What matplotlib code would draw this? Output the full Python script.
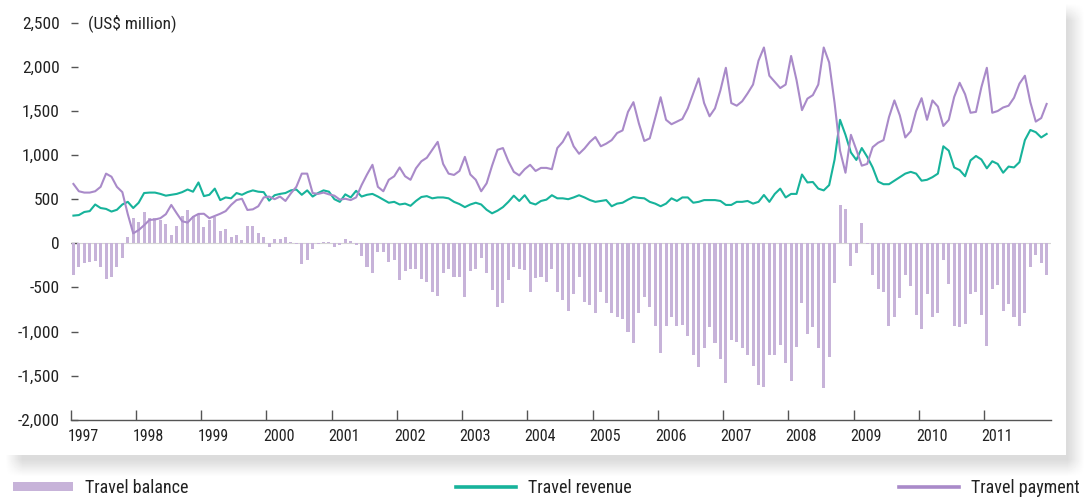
import numpy as np
import matplotlib
matplotlib.use("Agg")
import matplotlib.pyplot as plt
import matplotlib.transforms as mtransforms
from matplotlib.lines import Line2D
from matplotlib.patches import Patch
from matplotlib import font_manager as fm

# ---------------- data (US$ million, monthly Jan 1997 - Dec 2011) ----------------
years = [str(y) for y in range(1997, 2012)]

travel_revenue = [
    314, 320, 355, 365, 440, 400, 390, 360, 380, 440, 470, 400,
    460, 570, 575, 575, 560, 540, 550, 560, 580, 610, 585, 690,
    535, 550, 620, 490, 520, 510, 570, 550, 580, 600, 585, 580,
    484, 545, 560, 570, 600, 610, 550, 600, 530, 570, 600, 585,
    500, 470, 555, 520, 595, 530, 550, 560, 530, 495, 460, 470,
    440, 450, 425, 480, 525, 535, 510, 520, 520, 510, 470, 445,
    410, 440, 460, 440, 380, 340, 370, 410, 470, 540, 480, 545,
    460, 440, 480, 495, 545, 510, 510, 500, 520, 545, 520, 490,
    470, 480, 490, 420, 450, 460, 495, 525, 515, 510, 470, 450,
    420, 450, 510, 480, 520, 520, 460, 470, 490, 490, 490, 480,
    435, 435, 470, 470, 480, 450, 470, 548, 470, 560, 620, 520,
    560, 560, 780, 690, 695, 620, 600, 660, 950, 1400, 1230, 1030,
    945, 1080, 980, 860, 700, 670, 670, 710, 750, 790, 810, 790,
    710, 720, 750, 790, 1100, 1050, 860, 830, 760, 940, 990, 950,
    850, 930, 900, 800, 870, 860, 920, 1170, 1285, 1260, 1200, 1240,
]

travel_payment = [
    673, 590, 575, 575, 590, 640, 790, 755, 640, 580, 330, 113,
    150, 205, 265, 270, 285, 330, 435, 340, 250, 235, 300, 333,
    335, 285, 310, 335, 365, 435, 490, 505, 378, 385, 420, 520,
    530, 500, 530, 480, 567, 640, 790, 790, 570, 560, 575, 555,
    540, 495, 505, 490, 520, 660, 780, 890, 640, 590, 720, 760,
    860, 760, 720, 850, 930, 970, 1060, 1150, 900, 790, 775, 820,
    980, 780, 720, 590, 680, 880, 1060, 1080, 930, 810, 770, 840,
    890, 820, 855, 855, 840, 1080, 1150, 1260, 1100, 1015, 1075, 1150,
    1205, 1100, 1130, 1170, 1250, 1280, 1490, 1600, 1360, 1160, 1190, 1420,
    1656, 1400, 1350, 1380, 1410, 1530, 1700, 1870, 1590, 1440, 1530, 1735,
    1990, 1590, 1560, 1610, 1700, 1800, 2070, 2220, 1900, 1830, 1760, 1800,
    2124, 1850, 1510, 1640, 1680, 1800, 2220, 2050, 1590, 1050, 800, 1230,
    1060, 880, 900, 1090, 1140, 1170, 1430, 1620, 1450, 1200, 1270, 1500,
    1645, 1400, 1620, 1550, 1330, 1400, 1660, 1820, 1690, 1480, 1490, 1770,
    1990, 1480, 1500, 1540, 1560, 1650, 1810, 1900, 1600, 1380, 1420, 1580,
]

travel_balance = [
    -359, -265, -219, -208, -197, -265, -408, -378, -265, -170, 76, 283,
    246, 359, 283, 283, 265, 219, 95, 197, 310, 378, 310, 333,
    189, 265, 302, 144, 159, 76, 95, 38, 197, 197, 121, 68,
    -45, 45, 45, 68, 19, -8, -234, -189, -68, -8, 20, 10,
    -45, -19, 45, 26, -19, -144, -265, -333, -95, -95, -208, -189,
    -416, -310, -295, -295, -408, -435, -548, -597, -333, -295, -378, -378,
    -605, -310, -295, -170, -333, -529, -718, -673, -416, -272, -295, -302,
    -548, -397, -378, -435, -295, -548, -643, -764, -575, -378, -670, -699,
    -786, -548, -673, -786, -832, -862, -1002, -1126, -786, -612, -718, -937,
    -1247, -937, -839, -937, -926, -1051, -1266, -1406, -1191, -953, -1126, -1315,
    -1580, -1096, -1115, -1191, -1266, -1391, -1607, -1625, -1266, -1266, -1153, -1361,
    -1557, -1172, -673, -1028, -953, -1191, -1644, -1293, -454, 435, 386, -257,
    -113, 234, -5, -359, -522, -548, -937, -839, -624, -359, -484, -813,
    -975, -575, -839, -794, -189, -461, -937, -953, -915, -575, -548, -813,
    -1164, -522, -472, -764, -688, -832, -937, -786, -265, -132, -219, -359,
]

series_labels = ["Travel balance", "Travel revenue", "Travel payment"]
y_ticks = [-2000, -1500, -1000, -500, 0, 500, 1000, 1500, 2000, 2500]
unit_label = "(US$ million)"

# ---------------- style ----------------
BAR_C = "#c7b3d9"
REV_C = "#17b39b"
PAY_C = "#a98ac9"
AX_C = "#555555"
TXT_C = "#222222"

names = {f.name for f in fm.fontManager.ttflist}
FAM = [f for f in ["Liberation Sans Narrow", "Roboto Condensed", "Roboto", "DejaVu Sans"] if f in names]
plt.rcParams["font.family"] = FAM

W, H = 1085, 499
fig = plt.figure(figsize=(W / 100, H / 100), dpi=100)

# background panel with soft shadow
sh = np.zeros((H, W))
sh[12:468, 14:1076] = 1.0
k = np.ones(17) / 17
sh = np.apply_along_axis(lambda r: np.convolve(r, k, mode="same"), 1, sh)
sh = np.apply_along_axis(lambda c: np.convolve(c, k, mode="same"), 0, sh)
img = 1 - 0.14 * sh
img[:455, :1066] = 1.0
bg = fig.add_axes([0, 0, 1, 1])
bg.imshow(img, cmap="gray", vmin=0, vmax=1, extent=(0, W, H, 0), aspect="auto",
          interpolation="bilinear")
bg.axis("off")
bg.set_zorder(-5)

# main axes
px_per_month = 5.437
x_left, y_top, y_bot = 70.7, 22.8, 419.7
n = len(travel_balance)
ax = fig.add_axes([x_left / W, (H - y_bot) / H, (n + 0.3) * px_per_month / W, (y_bot - y_top) / H])
ax.patch.set_alpha(0)

x = np.arange(n) + 0.5
ax.axhline(0, color="#d5d5d5", lw=0.8, zorder=1)
ax.bar(x, travel_balance, width=0.56, color=BAR_C, zorder=2, linewidth=0)
ax.plot(x, travel_revenue, color=REV_C, lw=1.5, zorder=3, solid_joinstyle="round")
ax.plot(x, travel_payment, color=PAY_C, lw=1.5, zorder=4, solid_joinstyle="round")

ax.set_xlim(0, n + 0.3)
ax.set_ylim(-2000, 2500)
ax.set_yticks(y_ticks)
ax.set_yticklabels([f"{v:,}" for v in y_ticks])
ax.set_xticks(np.arange(0, n, 12))
ax.set_xticklabels(years)

for s in ["top", "right", "left"]:
    ax.spines[s].set_visible(False)
ax.spines["bottom"].set_color(AX_C)
ax.spines["bottom"].set_linewidth(1.0)
ax.tick_params(axis="y", direction="in", length=5, width=1, color=AX_C, pad=8,
               labelsize=12.5, labelcolor=TXT_C)
ax.tick_params(axis="x", direction="in", length=7, width=1, color=AX_C, pad=7,
               labelsize=11.5, labelcolor=TXT_C)
off = mtransforms.ScaledTranslation(-3 / 100, 0, fig.dpi_scale_trans)
for lab in ax.get_xticklabels():
    lab.set_horizontalalignment("left")
    lab.set_transform(lab.get_transform() + off)

fig.text(88 / W, (H - y_top) / H, unit_label, ha="left", va="center",
         fontsize=12.5, color=TXT_C)

# legend
handles = [Patch(facecolor=BAR_C, edgecolor="none"),
           Line2D([0], [0], color=REV_C, lw=2.6),
           Line2D([0], [0], color=PAY_C, lw=2.6)]
fig.legend(handles, series_labels, loc="center", ncol=3, mode="expand",
           bbox_to_anchor=(13 / W, (H - 488) / H, 1067 / W, 0), frameon=False,
           fontsize=13, handlelength=3.3, handletextpad=0.7, handleheight=0.45,
           borderaxespad=0, borderpad=0, labelcolor=TXT_C)

fig.savefig("out.png", dpi=100)
